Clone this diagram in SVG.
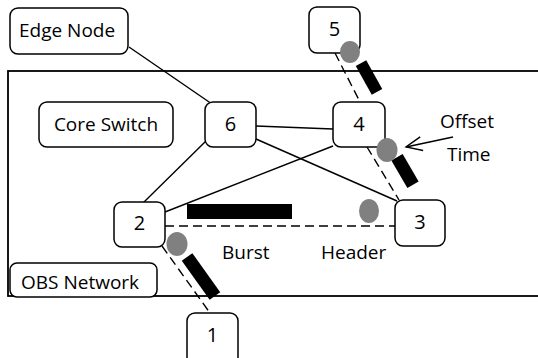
<svg xmlns="http://www.w3.org/2000/svg" width="538" height="358" viewBox="0 0 538 358">
  <style>
    .box { fill: #fff; stroke: #000; stroke-width: 1.5; }
    .lbl { font-family: "Open Sans", "Liberation Sans", sans-serif; font-size: 19px; fill: #000; }
    .num { font-family: "Open Sans", "Liberation Sans", sans-serif; font-size: 20px; fill: #000; text-anchor: middle; }
    .link { stroke: #000; stroke-width: 1.4; fill: none; }
    .dash { stroke: #000; stroke-width: 1.4; fill: none; stroke-dasharray: 9 5; }
    .hdr { fill: #808080; }
    .burst { fill: #000; }
  </style>
  <defs>
    <marker id="open-arrow" markerWidth="20" markerHeight="20" refX="17" refY="8" orient="auto" markerUnits="userSpaceOnUse">
      <path d="M1,1 L17,8 L1,15" fill="none" stroke="#000" stroke-width="1.4"/>
    </marker>
  </defs>

  <rect width="538" height="358" fill="#fff"/>

  <!-- OBS network boundary -->
  <rect id="obs-network-area" x="8" y="71" width="540" height="225" fill="none" stroke="#000" stroke-width="1.8"/>

  <g id="connectors">
    <line class="link" x1="129" y1="47" x2="212" y2="104"/>
    <line class="link" x1="256" y1="126" x2="333" y2="129"/>
    <line class="link" x1="256" y1="139" x2="397" y2="201"/>
    <line class="link" x1="333" y1="146" x2="165" y2="212"/>
    <line class="link" x1="207" y1="140" x2="143" y2="203"/>
    <line class="dash" x1="335" y1="53" x2="360" y2="102"/>
    <line class="dash" x1="367" y1="147" x2="399" y2="200"/>
    <line class="dash" x1="165" y1="226" x2="395" y2="226"/>
    <line class="dash" x1="162" y1="246" x2="210" y2="313"/>
    <line x1="453" y1="137" x2="406" y2="147" stroke="#000" stroke-width="1.4" marker-end="url(#open-arrow)"/>
  </g>

  <g id="edge-node-legend">
    <rect class="box" x="10" y="8" width="118" height="46" rx="8"/>
    <text class="lbl" x="19" y="37">Edge Node</text>
  </g>
  <g id="core-switch-legend">
    <rect class="box" x="39" y="102" width="134" height="45" rx="8"/>
    <text class="lbl" x="106" y="131" text-anchor="middle">Core Switch</text>
  </g>
  <g id="obs-network-legend">
    <rect class="box" x="10" y="263" width="147" height="34" rx="7"/>
    <text class="lbl" x="21" y="289">OBS Network</text>
  </g>

  <g id="node-6">
    <rect class="box" x="205" y="102" width="51" height="45" rx="8"/>
    <text class="num" x="230.5" y="131">6</text>
  </g>
  <g id="node-4">
    <rect class="box" x="333" y="102" width="52" height="45" rx="8"/>
    <text class="num" x="359" y="131">4</text>
  </g>
  <g id="node-5">
    <rect class="box" x="309" y="7" width="51" height="46" rx="8"/>
    <text class="num" x="334.5" y="36">5</text>
  </g>
  <g id="node-3">
    <rect class="box" x="395" y="200" width="50" height="46" rx="8"/>
    <text class="num" x="420" y="229">3</text>
  </g>
  <g id="node-2">
    <rect class="box" x="114" y="202" width="51" height="45" rx="8"/>
    <text class="num" x="139.5" y="230">2</text>
  </g>
  <g id="node-1">
    <rect class="box" x="187" y="313" width="51" height="52" rx="8"/>
    <text class="num" x="212.5" y="342">1</text>
  </g>

  <!-- data bursts -->
  <g id="bursts">
    <rect class="burst" x="187" y="204" width="105" height="15"/>
    <rect class="burst" x="-16.5" y="-6" width="33" height="12" transform="translate(369 77.5) rotate(61)"/>
    <rect class="burst" x="-16" y="-6.5" width="32" height="13" transform="translate(405 171) rotate(60)"/>
    <rect class="burst" x="-24" y="-6.5" width="48" height="13" transform="translate(201 276.5) rotate(54.5)"/>
  </g>

  <!-- control headers -->
  <g id="headers">
    <ellipse class="hdr" cx="350" cy="52" rx="10" ry="11"/>
    <ellipse class="hdr" cx="387" cy="150" rx="10.5" ry="12"/>
    <ellipse class="hdr" cx="369" cy="211" rx="10" ry="12"/>
    <ellipse class="hdr" cx="177" cy="244" rx="10.5" ry="12"/>
  </g>

  <g id="annotations">
    <text class="lbl" x="222" y="259">Burst</text>
    <text class="lbl" x="321" y="259">Header</text>
    <text class="lbl" x="440" y="128">Offset</text>
    <text class="lbl" x="447" y="161">Time</text>
  </g>
</svg>
